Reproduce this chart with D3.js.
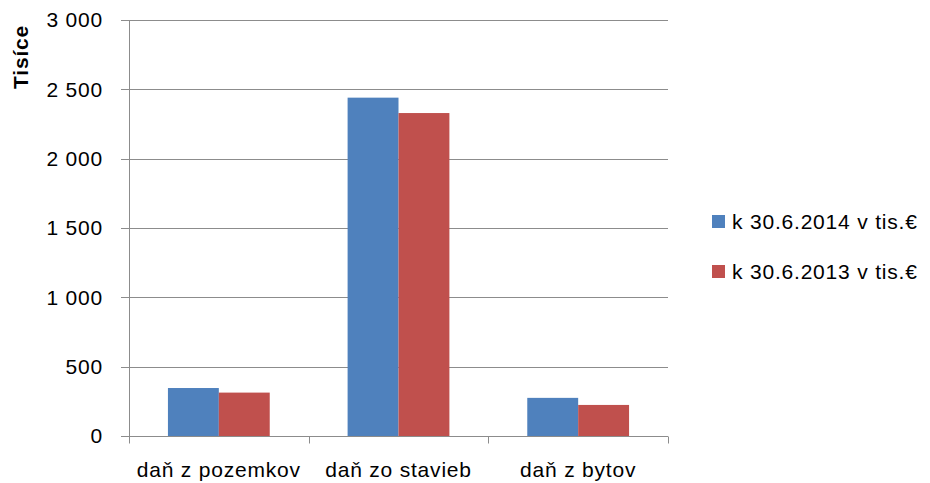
<!DOCTYPE html>
<html>
<head>
<meta charset="utf-8">
<script src="https://cdn.jsdelivr.net/npm/d3@7"></script>
<style>
  body { margin: 0; background: #fff; }
  text { font-family: "Liberation Sans", "DejaVu Sans", sans-serif; fill: #000; font-size: 21px; letter-spacing: 0.8px; }
</style>
</head>
<body>
<svg id="chart"></svg>
<script>
const categories = ["daň z pozemkov", "daň zo stavieb", "daň z bytov"];
const seriesNames = ["k 30.6.2014 v tis.€", "k 30.6.2013 v tis.€"];
const values2014 = [346, 2440, 275];
const values2013 = [313, 2329, 224];
const yTicks = [0, 500, 1000, 1500, 2000, 2500, 3000];
const colors = ["#4F81BD", "#C0504D"];

const width = 930, height = 483;
const margin = { top: 20, right: 262, bottom: 47, left: 129 };
const innerW = width - margin.left - margin.right;
const innerH = height - margin.top - margin.bottom;

const svg = d3.select("#chart").attr("width", width).attr("height", height);
const g = svg.append("g").attr("transform", `translate(${margin.left},${margin.top})`);

const x = d3.scaleBand().domain(categories).range([0, innerW]).paddingInner(0).paddingOuter(0);
const xSub = d3.scaleBand().domain(seriesNames).range([0, x.bandwidth()]).paddingInner(0).paddingOuter(0.765);
const y = d3.scaleLinear().domain([0, 3000]).range([innerH, 0]);

const fmt = v => d3.format(",")(v).replace(/,/g, " ");

// gridlines
g.append("g").selectAll("line")
  .data(yTicks)
  .join("line")
  .attr("x1", -8).attr("x2", innerW)
  .attr("y1", d => Math.round(y(d)) + 0.5).attr("y2", d => Math.round(y(d)) + 0.5)
  .attr("stroke", "#8c8c8c").attr("stroke-width", 1);

// bars
const data = categories.map((c, i) => ({ cat: c, vals: [values2014[i], values2013[i]] }));
g.append("g").selectAll("g")
  .data(data)
  .join("g")
  .attr("transform", d => `translate(${x(d.cat)},0)`)
  .selectAll("rect")
  .data(d => d.vals.map((v, j) => ({ name: seriesNames[j], v: v, j: j })))
  .join("rect")
  .attr("x", d => xSub(d.name))
  .attr("width", xSub.bandwidth())
  .attr("y", d => y(d.v))
  .attr("height", d => innerH - y(d.v))
  .attr("fill", d => colors[d.j]);

// y axis line
g.append("line")
  .attr("x1", 0.5).attr("x2", 0.5).attr("y1", 0).attr("y2", innerH)
  .attr("stroke", "#8c8c8c");

// x axis line + ticks
const xAxisY = Math.round(y(0)) + 0.5;
g.append("line")
  .attr("x1", 0).attr("x2", innerW).attr("y1", xAxisY).attr("y2", xAxisY)
  .attr("stroke", "#8c8c8c");
const tickX = categories.map(c => x(c)).concat([innerW]);
g.append("g").selectAll("line")
  .data(tickX)
  .join("line")
  .attr("x1", d => Math.round(d) + 0.5).attr("x2", d => Math.round(d) + 0.5)
  .attr("y1", xAxisY).attr("y2", xAxisY + 7)
  .attr("stroke", "#8c8c8c");

// y tick labels
g.append("g").selectAll("text")
  .data(yTicks)
  .join("text")
  .attr("x", -26).attr("y", d => y(d))
  .attr("dy", "0.35em")
  .attr("text-anchor", "end")
  .text(fmt);

// x tick labels
g.append("g").selectAll("text")
  .data(categories)
  .join("text")
  .attr("x", d => x(d) + x.bandwidth() / 2)
  .attr("y", innerH + 41)
  .attr("text-anchor", "middle")
  .text(d => d);

// y axis title
svg.append("text")
  .attr("transform", "translate(28,57) rotate(-90)")
  .attr("text-anchor", "middle")
  .style("font-weight", "bold")
  .text("Tisíce");

// legend
const legend = svg.append("g").attr("transform", "translate(712,215)");
seriesNames.forEach((s, i) => {
  const row = legend.append("g").attr("transform", `translate(0,${i * 50})`);
  row.append("rect").attr("width", 13).attr("height", 13).attr("fill", colors[i]);
  row.append("text").attr("x", 20).attr("y", 7).attr("dy", "0.35em").text(s);
});
</script>
</body>
</html>
